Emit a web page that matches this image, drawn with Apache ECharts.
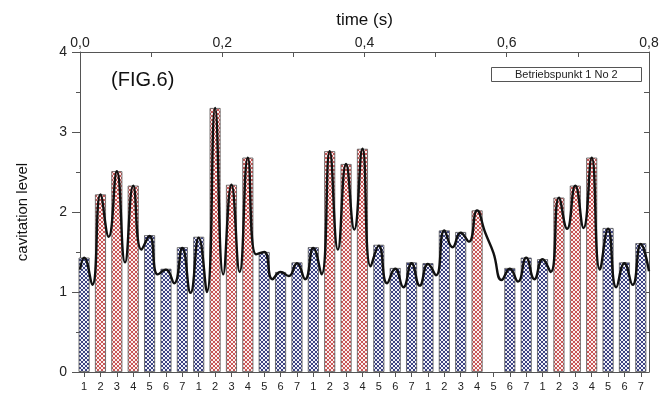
<!DOCTYPE html>
<html><head><meta charset="utf-8">
<script src="https://cdn.jsdelivr.net/npm/echarts@6/dist/echarts.min.js"></script>
<style>html,body{margin:0;padding:0;background:#fff}#c{width:662px;height:394px}</style>
</head><body><div id="c"></div>
<script>
// ---- data ----
const tickLabels = ['1','2','3','4','5','6','7','1','2','3','4','5','6','7','1','2','3','4','5','6','7',
                    '1','2','3','4','5','6','7','1','2','3','4','5','6','7'];
const levels = [1.43,2.22,2.51,2.33,1.71,1.29,1.56,
                1.69,3.30,2.34,2.68,1.50,1.25,1.37,
                1.56,2.76,2.60,2.79,1.59,1.30,1.37,
                1.36,1.77,1.75,2.02,null,1.30,1.43,
                1.41,2.18,2.33,2.68,1.80,1.37,1.61];
const curvePeaks = [1.43,2.22,2.51,2.33,1.70,1.28,1.55,
                    1.68,3.30,2.34,2.68,1.50,1.25,1.36,
                    1.55,2.76,2.60,2.79,1.58,1.29,1.36,
                    1.35,1.77,1.74,2.02,1.49,1.29,1.43,
                    1.41,2.18,2.33,2.68,1.79,1.36,1.60];
const curveValleys = [1.09,1.69,1.37,1.53,1.22,1.11,0.99,
                      1.00,1.22,1.25,1.47,1.16,1.20,1.16,
                      1.22,1.53,1.78,1.32,1.11,1.06,1.08,
                      1.21,1.56,1.63,1.74,1.15,1.13,1.16,
                      1.25,1.79,1.80,1.28,1.06,1.09];
const curveStart = 1.28, curveEnd = 1.26;
const threshold = 2.0;

// ---- build ----
const positions = tickLabels.map((_, i) => i + 1);
function hatch(bg, fg) {
  const c = document.createElement('canvas');
  c.width = 4; c.height = 4;
  const g = c.getContext('2d');
  g.fillStyle = bg; g.fillRect(0, 0, 4, 4);
  g.strokeStyle = fg; g.lineWidth = 1;
  g.beginPath(); g.moveTo(0, 0); g.lineTo(4, 4); g.moveTo(4, 0); g.lineTo(0, 4); g.stroke();
  return { image: c, repeat: 'repeat' };
}
const bluePat = hatch('#f2f3f8', '#3c4282');
const redPat = hatch('#fcf0f0', '#c85656');

const barData = [];
levels.forEach((v, i) => {
  if (v == null) return;
  barData.push({ value: [positions[i], v], itemStyle: { color: v >= threshold ? redPat : bluePat } });
});
const curve = [[0.75, curveStart]];
curvePeaks.forEach((v, i) => {
  curve.push([positions[i], v]);
  if (i < curveValleys.length) curve.push([positions[i] + 0.5, curveValleys[i]]);
});
curve.push([35.5, curveEnd]);

const FONT = 'Liberation Sans';
const axisCol = '#555';
const chart = echarts.init(document.getElementById('c'), null, { renderer: 'canvas' });
chart.setOption({
  backgroundColor: '#fff',
  animation: false,
  textStyle: { fontFamily: FONT },
  title: [
    { text: '(FIG.6)', left: 106, top: 65, textStyle: { fontSize: 20, fontWeight: 'normal', color: '#111', fontFamily: FONT } },
    { text: 'Betriebspunkt 1 No 2', left: 491, top: 67, padding: [2, 24], borderWidth: 1, borderColor: '#555',
      textStyle: { fontSize: 11, fontWeight: 'normal', color: '#222', fontFamily: FONT } }
  ],
  grid: { left: 80, right: 13, top: 52, bottom: 22 },
  xAxis: [
    { type: 'value', position: 'bottom', min: 0.75, max: 35.5,
      axisLine: { show: true, onZero: false, lineStyle: { color: axisCol } },
      axisTick: { show: true, inside: false, length: 5, customValues: positions, lineStyle: { color: axisCol } },
      axisLabel: { customValues: positions, formatter: v => tickLabels[Math.round(v) - 1], fontSize: 11, margin: 9, color: '#222' },
      splitLine: { show: false } },
    { type: 'value', position: 'top', min: 0, max: 0.8, interval: 0.2,
      name: 'time (s)', nameLocation: 'middle', nameGap: 23,
      nameTextStyle: { fontSize: 17, color: '#111' },
      axisLine: { show: true, onZero: false, lineStyle: { color: axisCol } },
      axisTick: { show: true, inside: true, length: 5, lineStyle: { color: axisCol } },
      minorTick: { show: true, splitNumber: 2, length: 5, lineStyle: { color: axisCol } },
      axisLabel: { formatter: v => v.toFixed(1).replace('.', ','), fontSize: 14, margin: 2, color: '#222' },
      splitLine: { show: false } }
  ],
  yAxis: [
    { type: 'value', position: 'left', min: 0, max: 4, interval: 1,
      name: 'cavitation level', nameLocation: 'middle', nameGap: 50,
      nameTextStyle: { fontSize: 15, color: '#111' },
      axisLine: { show: true, onZero: false, lineStyle: { color: axisCol } },
      axisTick: { show: true, inside: false, length: 8, lineStyle: { color: axisCol } },
      minorTick: { show: true, splitNumber: 2, length: 4, lineStyle: { color: axisCol } },
      axisLabel: { fontSize: 14, margin: 13, color: '#222' },
      splitLine: { show: false } },
    { type: 'value', position: 'right', min: 0, max: 4, interval: 0.5,
      axisLine: { show: true, onZero: false, lineStyle: { color: axisCol } },
      axisTick: { show: true, inside: true, length: 5, lineStyle: { color: axisCol } },
      axisLabel: { show: false }, splitLine: { show: false } }
  ],
  series: [
    { type: 'bar', xAxisIndex: 0, yAxisIndex: 0, barWidth: 11, data: barData,
      itemStyle: { borderColor: '#555', borderWidth: 0.8 } },
    { type: 'line', xAxisIndex: 0, yAxisIndex: 0, data: curve, smooth: 0.5, symbol: 'none', z: 5,
      lineStyle: { color: '#111', width: 2.4 } }
  ]
});
</script></body></html>
